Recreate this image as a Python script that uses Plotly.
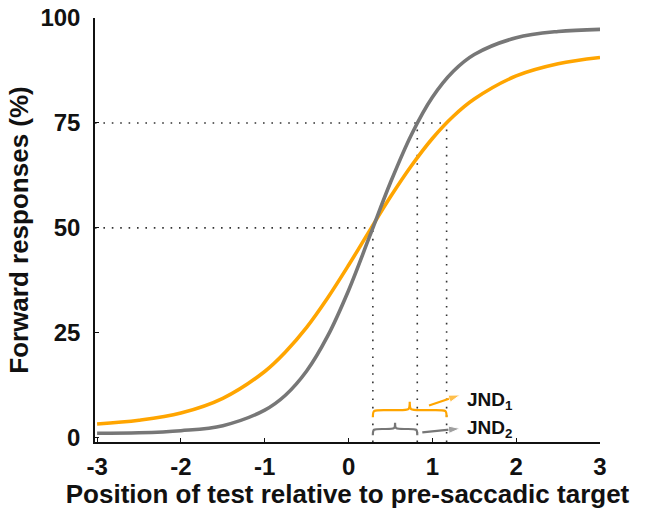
import plotly.graph_objects as go

# ---- data ----
x_vals = [-3, -2.5, -2, -1.5, -1, -0.75, -0.5, -0.25, 0, 0.25, 0.5, 0.75, 1, 1.25, 1.5, 2, 2.5, 3]
gray_vals = [1.1, 1.2, 1.7, 2.9, 6.6, 10.2, 15.9, 24.2, 35.1, 47.9, 60.8, 72.2, 81.1, 87.3, 91.3, 95.3, 96.8, 97.3]
orange_vals = [3.3, 4.2, 5.9, 9.4, 15.8, 20.5, 26.3, 33.3, 41.1, 49.3, 57.4, 64.8, 71.3, 76.6, 80.7, 86.2, 89.1, 90.6]

x_pse = 0.29          # 50% point (both curves)
x75_gray = 0.82       # gray 75% point
x75_orange = 1.17     # orange 75% point
levels = [50, 75]

x_ticks = [-3, -2, -1, 0, 1, 2, 3]
y_ticks = [0, 25, 50, 75, 100]

jnd_labels = ["JND<sub>1</sub>", "JND<sub>2</sub>"]

GRAY = "#777777"
ORANGE = "#FFA500"
INK = "#111111"
FONT = "Liberation Sans, Arial, sans-serif"
XMIN, XMAX = -3.025, 3.0
YMIN = -1.0

fig = go.Figure()

dot = dict(color="#333333", width=1.6, dash="1.6px,6.8px")
fig.add_trace(go.Scatter(x=[XMIN, x_pse], y=[levels[0], levels[0]], mode="lines", line=dot, hoverinfo="skip"))
fig.add_trace(go.Scatter(x=[XMIN, x75_orange], y=[levels[1], levels[1]], mode="lines", line=dot, hoverinfo="skip"))
fig.add_trace(go.Scatter(x=[x_pse, x_pse], y=[YMIN, levels[0]], mode="lines", line=dot, hoverinfo="skip"))
fig.add_trace(go.Scatter(x=[x75_gray, x75_gray], y=[YMIN, levels[1]], mode="lines", line=dot, hoverinfo="skip"))
fig.add_trace(go.Scatter(x=[x75_orange, x75_orange], y=[YMIN, levels[1]], mode="lines", line=dot, hoverinfo="skip"))

fig.add_trace(go.Scatter(x=x_vals, y=orange_vals, mode="lines",
                         line=dict(color=ORANGE, width=3.6, shape="spline", smoothing=1.0)))
fig.add_trace(go.Scatter(x=x_vals, y=gray_vals, mode="lines",
                         line=dict(color=GRAY, width=3.6, shape="spline", smoothing=1.0)))


def brace(x0, x1, yb, yf, yp, d):
    xm = (x0 + x1) / 2
    return (f"M {x0},{yb} C {x0},{yf} {x0},{yf} {x0+d},{yf} "
            f"L {xm-d},{yf} C {xm},{yf} {xm},{yf} {xm},{yp} "
            f"C {xm},{yf} {xm},{yf} {xm+d},{yf} "
            f"L {x1-d},{yf} C {x1},{yf} {x1},{yf} {x1},{yb}")


fig.add_shape(type="path", xref="x", yref="y", path=brace(x_pse, x75_orange, 4.9, 6.6, 8.6, 0.13),
              line=dict(color=ORANGE, width=2.2))
fig.add_shape(type="path", xref="x", yref="y", path=brace(x_pse, x75_gray, 0.6, 2.1, 3.6, 0.11),
              line=dict(color=GRAY, width=2.2))

# arrows (line with arrow marker at its head)
fig.add_trace(go.Scatter(x=[0.96, 1.33], y=[7.7, 10.2], mode="lines+markers",
                         line=dict(color=ORANGE, width=2.2),
                         marker=dict(symbol="arrow", size=[0, 12], angleref="previous", color=ORANGE),
                         hoverinfo="skip"))
fig.add_trace(go.Scatter(x=[0.88, 1.33], y=[1.3, 2.2], mode="lines+markers",
                         line=dict(color=GRAY, width=2.2),
                         marker=dict(symbol="arrow", size=[0, 12], angleref="previous", color=GRAY),
                         hoverinfo="skip"))
fig.add_annotation(x=1.39, y=8.8, xref="x", yref="y", text=jnd_labels[0], showarrow=False,
                   xanchor="left", yanchor="middle", font=dict(family=FONT, size=19, color=INK, weight="bold"))
fig.add_annotation(x=1.39, y=2.0, xref="x", yref="y", text=jnd_labels[1], showarrow=False,
                   xanchor="left", yanchor="middle", font=dict(family=FONT, size=19, color=INK, weight="bold"))

fig.update_layout(
    width=658, height=509,
    margin=dict(l=95, r=58, t=18, b=67, autoexpand=False),
    paper_bgcolor="white", plot_bgcolor="white",
    showlegend=False,
    font=dict(family=FONT, color=INK, weight="bold"),
    xaxis=dict(range=[XMIN, XMAX], tickvals=x_ticks, ticktext=[str(v) for v in x_ticks],
               showgrid=False, zeroline=False, showline=True, linecolor=INK, linewidth=1.5,
               ticks="inside", ticklen=4, tickwidth=1.3, tickcolor=INK, automargin=False,
               tickfont=dict(family=FONT, size=24, color=INK, weight="bold"), ticklabelstandoff=2,
               title=dict(text="Position of test relative to pre-saccadic target",
                          font=dict(family=FONT, size=26, color=INK, weight="bold"), standoff=2)),
    yaxis=dict(range=[YMIN, 100], tickvals=y_ticks,
               showgrid=False, zeroline=False, showline=True, linecolor=INK, linewidth=1.5,
               ticks="inside", ticklen=4, tickwidth=1.3, tickcolor=INK, automargin=False,
               tickfont=dict(family=FONT, size=24, color=INK, weight="bold"), ticklabelstandoff=8,
               title=dict(text="Forward responses (%)",
                          font=dict(family=FONT, size=26, color=INK, weight="bold"), standoff=4)),
)

fig.write_html("out.html")
